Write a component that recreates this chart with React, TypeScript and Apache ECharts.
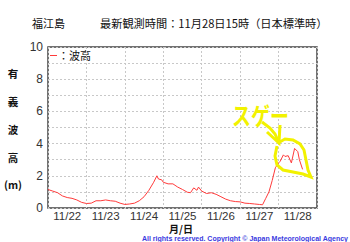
import React, { useEffect, useRef } from "react";
import * as echarts from "echarts";

const dayLabels = ["11/22", "11/23", "11/24", "11/25", "11/26", "11/27", "11/28"];
const yTicks = [0, 2, 4, 6, 8, 10];
// hours since 11/22 00:00 (JST)
const hours = [
  0, 3, 6, 9, 12, 15, 18, 21, 24, 27, 30, 33, 36, 39, 42, 45, 48, 51, 54, 57, 60, 63, 66, 68, 69, 71, 72,
  75, 78, 81, 84, 87, 89, 91, 93, 94, 96, 99, 102, 105, 108, 111, 114, 117, 120, 123, 126, 129, 132, 134,
  136, 138, 140, 142, 144, 145, 147, 148, 150, 152, 154, 156, 157, 159,
];
const waveHeight = [
  1.15, 1.05, 0.95, 0.75, 0.65, 0.6, 0.5, 0.35, 0.28, 0.3, 0.45, 0.45, 0.5, 0.45, 0.42, 0.3, 0.22, 0.25, 0.3,
  0.45, 0.7, 1.1, 1.6, 2.0, 1.8, 1.75, 1.6, 1.5, 1.5, 1.3, 1.15, 0.98, 0.95, 1.25, 1.1, 1.3, 1.05, 0.9, 0.95,
  0.85, 0.7, 0.55, 0.45, 0.4, 0.38, 0.3, 0.28, 0.25, 0.22, 0.2, 0.6, 1.0, 1.7, 2.5, 2.8, 2.9, 3.3, 3.2, 3.25,
  2.8, 3.7, 3.5, 3.0, 2.4,
];
const yNameChars = ["有", "義", "波", "高", "(m)"];

export default function App() {
  const ref = useRef<HTMLDivElement>(null);
  useEffect(() => {
    if (!ref.current) return;
    const chart = echarts.init(ref.current, null, { renderer: "svg" });
    const yellow = "#f2f200";
    const yNameY = [73, 101, 129, 157, 184];
    chart.setOption({
      animation: false,
      backgroundColor: "#ffffff",
      grid: {
        left: 48,
        top: 47,
        right: 33,
        bottom: 34,
        show: true,
        borderColor: "#444",
        borderWidth: 1.5,
        backgroundColor: "transparent",
      },
      xAxis: [
        {
          type: "category",
          data: dayLabels,
          boundaryGap: true,
          axisLine: { show: false },
          axisTick: { show: false },
          axisLabel: {
            color: "#333",
            fontFamily: "Liberation Sans Narrow, Liberation Sans, sans-serif",
            fontSize: 11.5,
            lineHeight: 10,
            margin: 2.5,
          },
          splitLine: { show: true, lineStyle: { color: "#c8c8c8", type: [2, 2], width: 1 } },
        },
        {
          type: "value",
          min: 0,
          max: 168,
          show: false,
        },
      ],
      yAxis: {
        type: "value",
        min: 0,
        max: 10,
        interval: 1,
        axisLine: { show: false },
        axisTick: { show: false },
        axisLabel: {
          color: "#333",
          fontFamily: "Liberation Sans Narrow, Liberation Sans, sans-serif",
          fontSize: 12,
          margin: 5,
          formatter: (v: number) => (yTicks.includes(v) ? String(v) : ""),
        },
        splitLine: { show: true, lineStyle: { color: "#c8c8c8", type: [2, 2], width: 1 } },
      },
      series: [
        {
          type: "line",
          xAxisIndex: 1,
          data: hours.map((h, i) => [h, waveHeight[i]]),
          showSymbol: false,
          lineStyle: { color: "#ff3b3b", width: 1 },
          z: 3,
        },
      ],
      graphic: [
        {
          type: "text",
          left: 32,
          top: 17,
          style: { text: "福江島", fontSize: 11, fontFamily: "Noto Sans CJK JP", fill: "#111" },
        },
        {
          type: "text",
          left: 100,
          top: 17,
          style: {
            text: "最新観測時間：11月28日15時（日本標準時）",
            fontSize: 11.2,
            fontFamily: "Noto Sans CJK JP",
            fill: "#111",
          },
        },
        {
          type: "line",
          shape: { x1: 50, y1: 55.5, x2: 57, y2: 55.5 },
          style: { stroke: "#ff3b3b", lineWidth: 1 },
        },
        {
          type: "text",
          left: 58,
          top: 49,
          style: { text: "：波高", fontSize: 11, fontFamily: "Noto Sans CJK JP", fill: "#111" },
        },
        ...yNameChars.map((c, i) => ({
          type: "text",
          x: 13,
          y: yNameY[i],
          style: {
            text: c,
            fontSize: 10.5,
            fontWeight: "bold",
            fontFamily: "Noto Sans CJK JP",
            fill: "#111",
            align: "center",
            verticalAlign: "middle",
          },
        })),
        {
          type: "text",
          x: 181,
          y: 228,
          style: {
            text: "月/日",
            fontSize: 10,
            lineHeight: 10,
            fontWeight: "bold",
            fontFamily: "Noto Sans CJK JP",
            fill: "#111",
            align: "center",
            verticalAlign: "middle",
          },
        },
        {
          type: "text",
          x: 348,
          y: 238.5,
          style: {
            text: "All rights reserved. Copyright © Japan Meteorological Agency",
            fontSize: 7,
            lineHeight: 7,
            fontFamily: "Liberation Sans, sans-serif",
            fontWeight: "bold",
            fill: "#3a3ae0",
            align: "right",
            verticalAlign: "middle",
          },
        },
        {
          type: "text",
          x: 232,
          y: 103,
          scaleY: 1.25,
          style: {
            text: "スゲー",
            fontSize: 19,
            fontWeight: "bold",
            fontFamily: "Noto Sans CJK JP",
            fill: yellow,
          },
          z: 10,
        },
        {
          type: "polyline",
          shape: { points: [[262, 122], [270, 128], [275, 134], [279, 143]] },
          style: { stroke: yellow, lineWidth: 3, fill: "none" },
          z: 10,
        },
        {
          type: "polyline",
          shape: { points: [[267, 132], [279, 143], [280, 125]] },
          style: { stroke: yellow, lineWidth: 3, fill: "none" },
          z: 10,
        },
        {
          type: "polyline",
          shape: {
            points: [
              [278, 143], [285, 139], [293, 140], [300, 144], [304, 150], [306, 160], [308, 170], [311, 177],
              [303, 174], [293, 172], [283, 170], [277, 165], [275, 156], [277, 146],
            ],
          },
          style: { stroke: yellow, lineWidth: 3, fill: "none" },
          z: 10,
        },
      ],
    });
    return () => chart.dispose();
  }, []);
  return <div ref={ref} style={{ width: 350, height: 242, position: "absolute", left: 0, top: 0 }} />;
}
